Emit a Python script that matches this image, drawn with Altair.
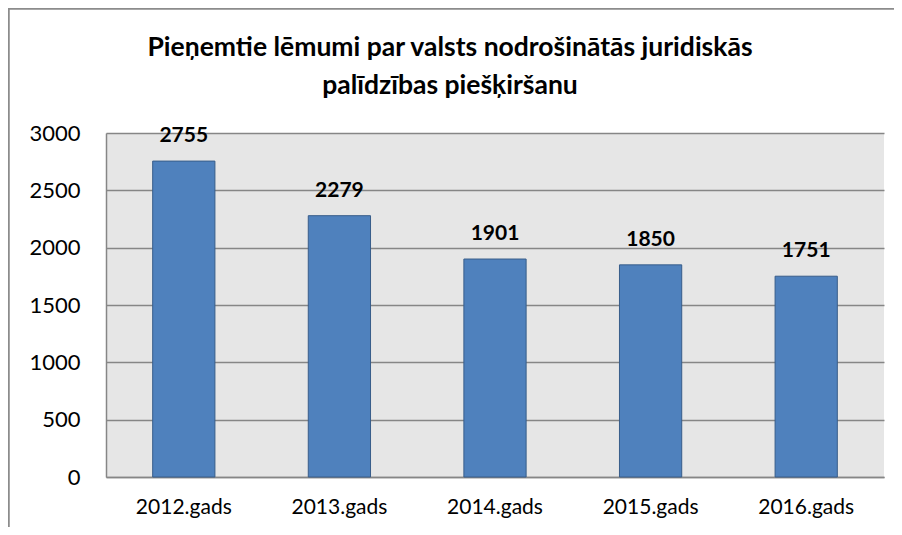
import altair as alt
import pandas as pd

years = ["2012.gads", "2013.gads", "2014.gads", "2015.gads", "2016.gads"]
values = [2755, 2279, 1901, 1850, 1751]
title_lines = ["Pieņemtie lēmumi par valsts nodrošinātās juridiskās", "palīdzības piešķiršanu"]

df = pd.DataFrame({"year": years, "value": values})
FONT = "Lato"

base = alt.Chart(df).encode(
    x=alt.X("year:N", sort=years, title=None,
            scale=alt.Scale(paddingInner=0.6, paddingOuter=0.3),
            axis=alt.Axis(labelAngle=0, labelFontSize=21, labelColor="#000000",
                          labelFont=FONT, labelPadding=19, ticks=False,
                          domainColor="#868686", domainWidth=1.5)),
    y=alt.Y("value:Q", title=None,
            scale=alt.Scale(domain=[0, 3000], nice=False),
            axis=alt.Axis(values=[0, 500, 1000, 1500, 2000, 2500, 3000], format="d",
                          labelFontSize=22, labelColor="#000000", labelFont=FONT,
                          labelPadding=26, ticks=False, grid=True,
                          gridColor="#868686", gridWidth=1.5,
                          domainColor="#868686", domainWidth=1.5)),
)

bars = base.mark_bar(color="#4F81BD", stroke="#385D8A", strokeWidth=1)
labels = base.mark_text(dy=-25, fontSize=21, fontWeight="bold", font=FONT,
                        color="#000000", baseline="middle").encode(text="value:Q")

title_df = pd.DataFrame({"t": ["\n".join(title_lines)]})
title_mark = alt.Chart(title_df).mark_text(
    fontSize=26.5, fontWeight="bold", font=FONT, color="#000000",
    align="center", baseline="middle", lineBreak="\n", lineHeight=38,
).encode(text="t:N", x=alt.value(344), y=alt.value(-85))

border_top = alt.Chart(df).mark_rule(color="#8C8C8C", strokeWidth=1.5).encode(
    x=alt.value(-98), x2=alt.value(900), y=alt.value(-124.5))
border_left = alt.Chart(df).mark_rule(color="#8C8C8C", strokeWidth=1.5).encode(
    x=alt.value(-97.5), y=alt.value(-125), y2=alt.value(420))

chart = alt.layer(bars, labels, title_mark, border_top, border_left).properties(
    width=778, height=344,
    autosize=alt.AutoSizeParams(type="none"),
    padding={"left": 98, "top": 125, "right": 10, "bottom": 50},
).configure(
    background="white",
    view=alt.ViewConfig(fill="#E6E6E6", strokeWidth=0),
)

chart.save("out.html", embed_options={"renderer": "svg", "actions": False})
